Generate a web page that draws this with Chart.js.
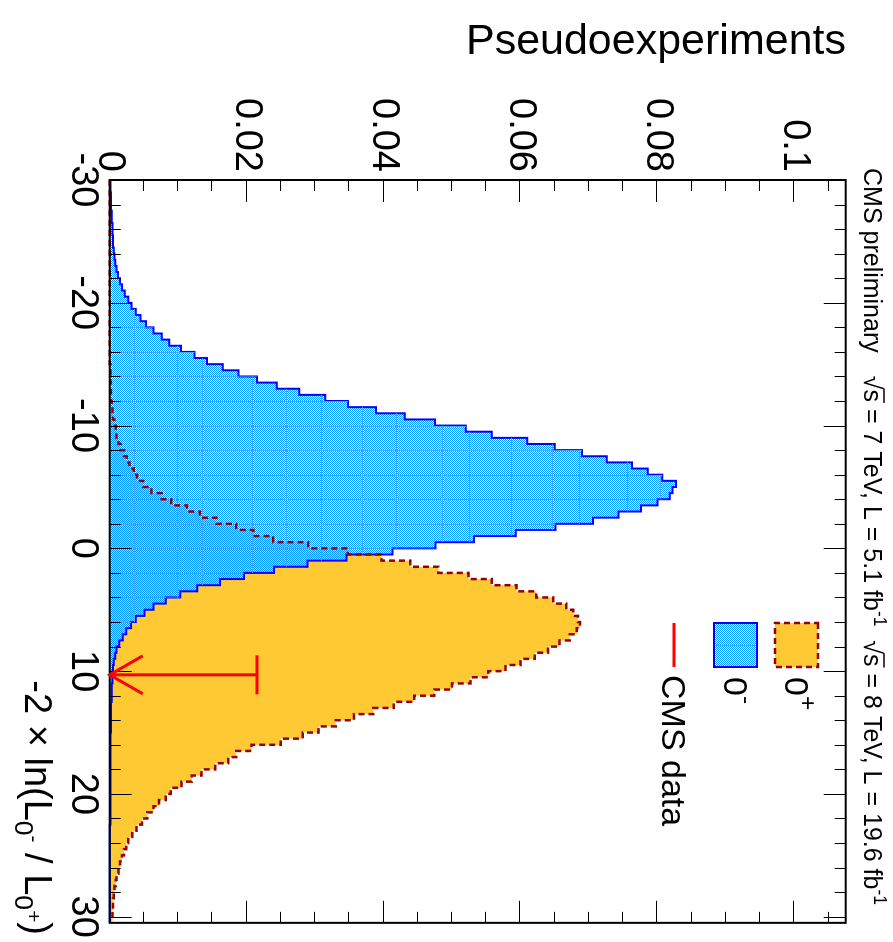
<!DOCTYPE html>
<html>
<head>
<meta charset="utf-8">
<script src="https://cdn.jsdelivr.net/npm/chart.js@4.4.1/dist/chart.umd.min.js"></script>
<style>
  html, body { margin: 0; padding: 0; background: #fff; overflow: hidden; width: 893px; height: 942px; }
  /* the plot is laid out landscape and turned a quarter turn clockwise */
  #wrap { position: absolute; left: 0; top: 0; width: 942px; height: 893px;
          transform-origin: 0 0; transform: translate(893px, 0) rotate(90deg); }
  canvas { display: block; }
</style>
</head>
<body>
<div id="wrap"><canvas id="c" width="942" height="893"></canvas></div>
<script>
// Binning of the test statistic -2 ln(L_0- / L_0+)
const X_MIN = -30, X_MAX = 30.5, BIN_WIDTH = 0.5;

// 0- hypothesis pseudoexperiments (normalised), one value per bin
const pseudoscalar = [
  0.0001,0.0001,0.0002,0.0002,0.0002,0.0003,0.0003,0.0004,0.0004,0.0005,
  0.0005,0.0006,0.0007,0.0008,0.0010,0.0012,0.0015,0.0018,0.0022,0.0027,
  0.0032,0.0038,0.0045,0.0053,0.0064,0.0076,0.0087,0.0104,0.0124,0.0142,
  0.0165,0.0188,0.0215,0.0244,0.0277,0.0315,0.0348,0.0389,0.0431,0.0475,
  0.0520,0.0558,0.0610,0.0650,0.0690,0.0726,0.0763,0.0786,0.0807,0.0827,
  0.0822,0.0818,0.0800,0.0776,0.0743,0.0706,0.0651,0.0593,0.0532,0.0476,
  0.0413,0.0346,0.0289,0.0240,0.0196,0.0161,0.0128,0.0103,0.0082,0.0064,
  0.0051,0.0038,0.0031,0.0024,0.0019,0.0014,0.0010,0.0008,0.0006,0.0005,
  0.0004,0.0004,0.0003,0.0003,0.0003,0.0002,0.0002,0.0002,0.0002,0.0002,
  0.0001,0.0001,0.0001,0.0001,0.0001,0.0001,0.0001,0.0001,0.0001,0.0001,
  0.0001,0.0001,0.0001,0.0001,0.0001,0,0,0,0,0,
  0,0,0,0,0,0,0,0,0,0,
  0
];

// 0+ hypothesis pseudoexperiments (normalised), one value per bin
const scalar = [
  0,0,0,0,0,0,0,0,0,0,
  0,0,0,0,0,0,0,0,0,0,
  0,0,0,0,0,0,0,0,0,0,
  0.0001,0.0001,0.0001,0.0002,0.0002,0.0002,0.0003,0.0004,0.0005,0.0007,
  0.0009,0.0010,0.0013,0.0016,0.0021,0.0025,0.0029,0.0035,0.0040,0.0049,
  0.0061,0.0076,0.0090,0.0113,0.0132,0.0156,0.0185,0.0210,0.0239,0.0290,
  0.0348,0.0397,0.0439,0.0480,0.0524,0.0558,0.0594,0.0623,0.0648,0.0667,
  0.0677,0.0684,0.0687,0.0682,0.0672,0.0657,0.0640,0.0621,0.0600,0.0578,
  0.0553,0.0527,0.0500,0.0474,0.0445,0.0415,0.0385,0.0357,0.0330,0.0305,
  0.0282,0.0250,0.0207,0.0185,0.0173,0.0154,0.0134,0.0120,0.0105,0.0089,
  0.0082,0.0072,0.0064,0.0055,0.0047,0.0039,0.0033,0.0027,0.0024,0.0021,
  0.0018,0.0015,0.0013,0.0010,0.0009,0.0007,0.0006,0.0005,0.0005,0.0004,
  0.0004
];

// observed value in data, and the length of its arrow
const cmsObserved = 10.3;
const cmsArrowTop = 0.0215;

// axis ticks
const xTickLabels = [-30, -20, -10, 0, 10, 20, 30];
const yTickLabels = [0, 0.02, 0.04, 0.06, 0.08, 0.1];
const Y_MAX = 0.1075;

// ---------- styling ----------
const FONT = '"Liberation Sans", Arial, Helvetica, sans-serif';
const YELLOW = '#ffc933';
const DARKRED = '#990000';
const BLUE_LINE = '#0000ff';
const BLUE_DOT = 'rgb(0,150,255)';
const BLUE_SEAM = 'rgb(60,170,255)';
const seamStepX = 2;
const seamValues = [0.0037, 0.0100, 0.0136, 0.0209, 0.0259, 0.0310, 0.0370, 0.0420,
                    0.0487, 0.0526, 0.0587, 0.0648, 0.0687, 0.0757, 0.0805];

const canvas = document.getElementById('c');
const ctx0 = canvas.getContext('2d');

function dotPattern() {
  const t = document.createElement('canvas');
  t.width = 2; t.height = 2;
  const g = t.getContext('2d');
  g.fillStyle = BLUE_DOT;
  g.fillRect(0, 0, 1, 1);
  g.fillRect(1, 1, 1, 1);
  return ctx0.createPattern(t, 'repeat');
}
const bluePattern = dotPattern();

function histPoints(values) {
  const pts = values.map((v, i) => ({ x: X_MIN + i * BIN_WIDTH, y: v }));
  pts.push({ x: X_MIN + values.length * BIN_WIDTH, y: values[values.length - 1] });
  return pts;
}

function richWidth(ctx, segs, size) {
  let w = 0;
  for (const s of segs) {
    ctx.font = `${size * (s.s || 1)}px ${FONT}`;
    w += ctx.measureText(s.t).width;
  }
  return w;
}
function drawRich(ctx, segs, x, y, size, align) {
  let cx = align === 'right' ? x - richWidth(ctx, segs, size) : x;
  for (const s of segs) {
    const fs = size * (s.s || 1);
    ctx.font = `${fs}px ${FONT}`;
    const w = ctx.measureText(s.t).width;
    ctx.fillText(s.t, cx, y + (s.dy || 0) * size);
    if (s.over) {
      ctx.save();
      ctx.lineWidth = Math.max(1, size * 0.06);
      ctx.strokeStyle = ctx.fillStyle;
      ctx.beginPath();
      ctx.moveTo(cx - 1, y - 0.80 * size);
      ctx.lineTo(cx + w + 1, y - 0.80 * size);
      ctx.stroke();
      ctx.restore();
    }
    cx += w;
  }
}

function histPath(ctx, xs, ys, values) {
  ctx.beginPath();
  ctx.moveTo(xs.getPixelForValue(X_MIN), ys.getPixelForValue(0));
  values.forEach((v, i) => {
    const a = xs.getPixelForValue(X_MIN + i * BIN_WIDTH);
    const b = xs.getPixelForValue(X_MIN + (i + 1) * BIN_WIDTH);
    const py = ys.getPixelForValue(v);
    ctx.lineTo(a, py);
    ctx.lineTo(b, py);
  });
  ctx.lineTo(xs.getPixelForValue(X_MIN + values.length * BIN_WIDTH), ys.getPixelForValue(0));
  ctx.closePath();
}

// faint seams inside the hatched 0- area
const seamPlugin = {
  id: 'seams',
  afterDatasetDraw(chart, args) {
    if (args.index !== 1) return;
    const { ctx, scales: { x: xs, y: ys }, chartArea: a } = chart;
    ctx.save();
    histPath(ctx, xs, ys, pseudoscalar);
    ctx.clip();
    ctx.strokeStyle = BLUE_SEAM;
    ctx.lineWidth = 1;
    ctx.beginPath();
    for (let v = X_MIN; v <= X_MAX; v += seamStepX) {
      const px = Math.round(xs.getPixelForValue(v)) + 0.5;
      ctx.moveTo(px, a.top); ctx.lineTo(px, a.bottom);
    }
    for (const v of seamValues) {
      const py = Math.round(ys.getPixelForValue(v)) + 0.5;
      ctx.moveTo(a.left, py); ctx.lineTo(a.right, py);
    }
    ctx.stroke();
    ctx.restore();
  }
};

// frame, inward ticks on all four sides, data arrow, legend and texts
const framePlugin = {
  id: 'frame',
  afterDatasetsDraw(chart) {
    const { ctx, scales: { x: xs, y: ys }, chartArea: a } = chart;
    ctx.save();
    ctx.strokeStyle = '#000';
    ctx.lineWidth = 1;
    const MAJ = 22, MIN = 11;
    ctx.beginPath();
    for (let v = -30; v <= 30.001; v += 2) {
      const px = Math.round(xs.getPixelForValue(v)) + 0.5;
      const L = (Math.abs(v % 10) < 1e-6) ? MAJ : MIN;
      ctx.moveTo(px, a.bottom); ctx.lineTo(px, a.bottom - L);
      ctx.moveTo(px, a.top); ctx.lineTo(px, a.top + L);
    }
    for (let k = 0; k <= 21; k++) {
      const v = k * 0.005;
      const py = Math.round(ys.getPixelForValue(v)) + 0.5;
      const L = (k % 4 === 0) ? MAJ : MIN;
      ctx.moveTo(a.left, py); ctx.lineTo(a.left + L, py);
      ctx.moveTo(a.right, py); ctx.lineTo(a.right - L, py);
    }
    ctx.stroke();
    ctx.lineWidth = 2;
    ctx.strokeRect(a.left, a.top, a.right - a.left, a.bottom - a.top);

    // observed value: arrow pointing to zero
    const ax = xs.getPixelForValue(cmsObserved);
    const yTop = ys.getPixelForValue(cmsArrowTop);
    const y0 = ys.getPixelForValue(0);
    ctx.strokeStyle = '#ff0000';
    ctx.lineWidth = 3;
    ctx.beginPath();
    ctx.moveTo(ax, yTop); ctx.lineTo(ax, y0);
    ctx.moveTo(ax - 19.5, yTop); ctx.lineTo(ax + 19.5, yTop);
    ctx.moveTo(ax - 19, y0 - 33); ctx.lineTo(ax, y0); ctx.lineTo(ax + 19, y0 - 33);
    ctx.stroke();

    // legend
    const bx = 623, bw = 44;
    ctx.fillStyle = YELLOW;
    ctx.fillRect(bx, 75, bw, 43);
    ctx.setLineDash([6, 4]);
    ctx.strokeStyle = DARKRED;
    ctx.lineWidth = 2.5;
    ctx.strokeRect(bx, 75, bw, 43);
    ctx.setLineDash([]);
    ctx.fillStyle = bluePattern;
    ctx.fillRect(bx, 136, bw, 43);
    ctx.strokeStyle = BLUE_SEAM;
    ctx.lineWidth = 1;
    ctx.beginPath(); ctx.moveTo(bx + 22.5, 136); ctx.lineTo(bx + 22.5, 179); ctx.stroke();
    ctx.strokeStyle = BLUE_LINE;
    ctx.lineWidth = 2;
    ctx.strokeRect(bx, 136, bw, 43);
    ctx.strokeStyle = '#ff0000';
    ctx.lineWidth = 3;
    ctx.beginPath(); ctx.moveTo(bx, 219); ctx.lineTo(bx + bw, 219); ctx.stroke();

    ctx.fillStyle = '#000';
    ctx.textBaseline = 'alphabetic';
    ctx.textAlign = 'left';
    drawRich(ctx, [{ t: '0' }, { t: '+', s: 0.72, dy: -0.45 }], 677, 108, 34);
    drawRich(ctx, [{ t: '0' }, { t: '-', s: 0.72, dy: -0.45 }], 677, 169, 34);
    drawRich(ctx, [{ t: 'CMS data' }], 675, 231, 34);

    // header line above the frame
    drawRich(ctx, [{ t: 'CMS preliminary' }], 168, 29, 25);
    drawRich(ctx, [
      { t: '\u221A' }, { t: 's', over: true }, { t: ' = 7 TeV, L = 5.1 fb' }, { t: '-1', s: 0.7, dy: -0.42 },
      { t: '  \u221A' }, { t: 's', over: true }, { t: ' = 8 TeV, L = 19.6 fb' }, { t: '-1', s: 0.7, dy: -0.42 }
    ], 905, 29, 25, 'right');

    // axis titles
    drawRich(ctx, [
      { t: '-2 \u00D7 ln(L' }, { t: '0', s: 0.7, dy: 0.25 }, { t: '-', s: 0.55, dy: -0.05 },
      { t: ' / L' }, { t: '0', s: 0.7, dy: 0.25 }, { t: '+', s: 0.55, dy: -0.05 }, { t: ')' }
    ], 935, 868, 38, 'right');

    ctx.translate(54, 47);
    ctx.rotate(-Math.PI / 2);
    drawRich(ctx, [{ t: 'Pseudoexperiments' }], 0, 0, 43, 'right');
    ctx.restore();
  }
};

const tickFont = { family: FONT, size: 38 };

new Chart(canvas, {
  type: 'line',
  data: {
    datasets: [
      { // dashed outline of 0+, on top
        data: histPoints(scalar), stepped: true, fill: false,
        borderColor: DARKRED, borderWidth: 2.5, borderDash: [6, 4],
        pointRadius: 0, order: 1, clip: 4
      },
      { // 0- hatched
        data: histPoints(pseudoscalar), stepped: true, fill: 'origin',
        backgroundColor: bluePattern, borderColor: BLUE_LINE, borderWidth: 2,
        pointRadius: 0, order: 2, clip: 4
      },
      { // 0+ solid fill
        data: histPoints(scalar), stepped: true, fill: 'origin',
        backgroundColor: YELLOW, borderWidth: 0, borderColor: 'rgba(0,0,0,0)',
        pointRadius: 0, order: 3, clip: 4
      }
    ]
  },
  options: {
    responsive: false,
    animation: false,
    devicePixelRatio: 1,
    parsing: false,
    normalized: true,
    layout: { padding: { left: 0, top: 47.3, right: 18.2, bottom: 0 } },
    plugins: { legend: { display: false }, tooltip: { enabled: false }, title: { display: false } },
    elements: { line: { tension: 0 } },
    scales: {
      x: {
        type: 'linear', position: 'bottom', min: X_MIN, max: X_MAX,
        grid: { display: false, drawTicks: false }, border: { display: false },
        afterBuildTicks: s => { s.ticks = xTickLabels.map(v => ({ value: v })); },
        afterFit: s => { s.height = 109.7; },
        ticks: { font: tickFont, color: '#000', padding: 4, autoSkip: false, maxRotation: 0,
                 callback: v => String(v) }
      },
      y: {
        type: 'linear', position: 'left', min: 0, max: Y_MAX,
        grid: { display: false, drawTicks: false }, border: { display: false },
        afterBuildTicks: s => { s.ticks = yTickLabels.map(v => ({ value: v })); },
        afterFit: s => { s.width = 180; },
        ticks: { font: tickFont, color: '#000', padding: 8, autoSkip: false,
                 callback: v => String(v) }
      }
    }
  },
  plugins: [seamPlugin, framePlugin]
});
</script>
</body>
</html>
